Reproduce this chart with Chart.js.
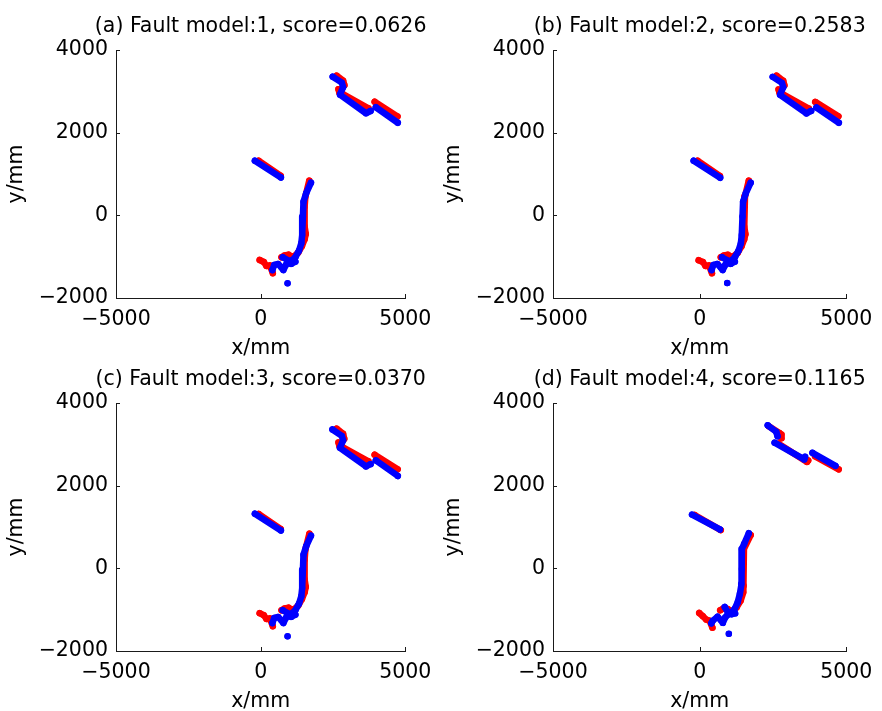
<!DOCTYPE html>
<html>
<head>
<meta charset="utf-8">
<script src="https://cdn.jsdelivr.net/npm/chart.js@4.4.1/dist/chart.umd.min.js"></script>
<style>
    html, body { margin: 0; padding: 0; background: #fff; overflow: hidden; }
    #fig { position: relative; width: 882px; height: 711px; }
    .panel { position: absolute; }
</style>
</head>
<body>
<div id="fig">
    <div class="panel"><canvas id="ca"></canvas></div>
    <div class="panel"><canvas id="cb"></canvas></div>
    <div class="panel"><canvas id="cc"></canvas></div>
    <div class="panel"><canvas id="cd"></canvas></div>
</div>
<script>
    // 軸の目盛り
    const xTicks = [-5000, 0, 5000];
    const yTicks = [-2000, 0, 2000, 4000];

    const titles = [
        '(a) Fault model:1, score=0.0626',
        '(b) Fault model:2, score=0.2583',
        '(c) Fault model:3, score=0.0370',
        '(d) Fault model:4, score=0.1165'
    ];

    // 各系列 = 線分のリスト, 各線分 = [x, y] (mm)
    const redA = [
        [[2625, 3380], [2850, 3260], [2895, 3150]],
        [[2690, 3050], [2720, 2965], [2830, 2940], [3725, 2590]],
        [[3940, 2750], [4730, 2390]],
        [[-70, 1320], [690, 960]],
        [[1680, 840], [1545, 450], [1520, 210], [1520, -270], [1560, -450], [1520, -580], [1430, -740],
         [1300, -900], [1165, -985], [1055, -1000], [965, -950], [830, -970], [720, -1015]],
        [[-35, -1080], [110, -1130], [200, -1225], [315, -1210], [420, -1400]]
    ];
    const blueA = [
        [[2490, 3355], [2805, 3210], [2850, 3100], [2740, 2920], [3640, 2470], [3800, 2525]],
        [[3980, 2615], [4740, 2240]],
        [[-200, 1320], [700, 915]],
        [[1740, 790], [1570, 530], [1480, 330], [1460, -30], [1435, -475], [1405, -675], [1325, -855],
         [1210, -1000], [1100, -1080], [985, -1130], [875, -1195], [785, -1325], [720, -1260],
         [605, -1175], [470, -1200], [405, -1325]],
        [[765, -1015], [920, -1080], [1055, -1175], [1200, -1120]],
        [[930, -1645]]
    ];

    const redB = [
        [[2620, 3380], [2850, 3255], [2890, 3145]],
        [[2690, 3045], [2720, 2965], [2830, 2935], [3720, 2585]],
        [[3940, 2745], [4730, 2395]],
        [[-70, 1320], [690, 955]],
        [[1675, 840], [1545, 455], [1525, 210], [1520, -270], [1560, -455], [1520, -580], [1430, -745],
         [1300, -905], [1165, -985], [1055, -1000], [965, -955], [830, -970], [720, -1015]],
        [[-35, -1085], [110, -1130], [200, -1225], [315, -1210], [420, -1400]]
    ];
    const blueB = [
        [[2490, 3350], [2805, 3205], [2850, 3100], [2740, 2915], [3640, 2465], [3800, 2525]],
        [[3980, 2610], [4745, 2240]],
        [[-205, 1320], [700, 910]],
        [[1740, 790], [1570, 530], [1480, 330], [1460, -30], [1435, -475], [1405, -675], [1325, -855],
         [1210, -1000], [1100, -1085], [985, -1130], [875, -1195], [785, -1325], [720, -1260],
         [605, -1175], [470, -1200], [405, -1325]],
        [[765, -1015], [920, -1080], [1055, -1175], [1200, -1120]],
        [[940, -1640]]
    ];

    const redC = [
        [[2625, 3380], [2850, 3255], [2890, 3135]],
        [[2690, 3045], [2720, 2960], [2830, 2935], [3725, 2590]],
        [[3940, 2750], [4735, 2395]],
        [[-70, 1315], [690, 955]],
        [[1685, 840], [1545, 450], [1520, 210], [1520, -270], [1560, -450], [1520, -580], [1430, -740],
         [1300, -900], [1165, -985], [1055, -1000], [965, -950], [830, -970], [720, -1015]],
        [[-35, -1085], [110, -1135], [200, -1225], [315, -1210], [420, -1400]]
    ];
    const blueC = [
        [[2480, 3360], [2805, 3205], [2850, 3095], [2740, 2915], [3640, 2465], [3800, 2520]],
        [[3980, 2610], [4740, 2235]],
        [[-200, 1320], [700, 915]],
        [[1740, 790], [1570, 530], [1480, 330], [1460, -30], [1435, -475], [1405, -675], [1325, -855],
         [1210, -1000], [1100, -1080], [985, -1130], [875, -1195], [785, -1325], [720, -1260],
         [605, -1175], [470, -1200], [405, -1325]],
        [[765, -1015], [920, -1080], [1055, -1175], [1200, -1120]],
        [[930, -1645]]
    ];

    const redD = [
        [[2360, 3435], [2720, 3275], [2790, 3235], [2790, 3150]],
        [[2690, 3015], [3660, 2575], [3700, 2610]],
        [[3935, 2710], [4740, 2395]],
        [[-170, 1290], [720, 925]],
        [[1740, 805], [1510, 470], [1500, -420], [1480, -580], [1400, -780], [1260, -945], [1100, -1050],
         [955, -985], [810, -970], [700, -1015]],
        [[-15, -1080], [110, -1160], [225, -1240], [335, -1265], [435, -1435]]
    ];
    const blueD = [
        [[2320, 3460], [2610, 3305], [2655, 3195]],
        [[2555, 3040], [3565, 2635], [3595, 2700]],
        [[3845, 2795], [4630, 2480]],
        [[-260, 1300], [690, 940]],
        [[1675, 850], [1515, 590], [1440, 470], [1440, -15], [1415, -380], [1370, -620], [1295, -825],
         [1190, -985], [1055, -1080], [945, -1130], [870, -1190], [790, -1320], [720, -1250],
         [610, -1170], [450, -1265], [400, -1330]],
        [[855, -935], [965, -1065], [1080, -1110], [1210, -1090]],
        [[995, -1585]]
    ];

    const FONT = 'DejaVu Sans';
    const FS = 20.5;
    const AXIS_COLOR = '#1a1a1a';
    const PANEL_W = 441;
    const X_AXIS_H = 70;

    Chart.defaults.font.family = FONT;
    Chart.defaults.color = '#000';

    const panels = [
        { id: 'ca', left: 0,   top: 0,   area: { l: 116, r: 413, t: 50, b: 298 }, title: titles[0], red: redA, blue: blueA },
        { id: 'cb', left: 441, top: 0,   area: { l: 112, r: 409, t: 50, b: 298 }, title: titles[1], red: redB, blue: blueB },
        { id: 'cc', left: 0,   top: 355, area: { l: 116, r: 413, t: 48, b: 296 }, title: titles[2], red: redC, blue: blueC },
        { id: 'cd', left: 441, top: 355, area: { l: 112, r: 409, t: 48, b: 296 }, title: titles[3], red: redD, blue: blueD }
    ];

    function toPoints(segments) {
        const out = [];
        segments.forEach((seg, i) => {
            if (i > 0) out.push({ x: null, y: null });  // 線を切る
            seg.forEach(p => out.push({ x: p[0], y: p[1] }));
        });
        return out;
    }

    function fmt(v) {
        return v < 0 ? '\u2212' + Math.abs(v) : String(v);
    }

    function series(color, segments) {
        return {
            data: toPoints(segments),
            showLine: true,
            spanGaps: false,
            borderColor: color,
            backgroundColor: color,
            borderWidth: 6.5,
            borderCapStyle: 'round',
            borderJoinStyle: 'round',
            pointRadius: 3.2,
            pointHoverRadius: 3.2,
            pointBorderWidth: 0
        };
    }

    // MATLAB風の内向き目盛り + タイトル
    const matlabAxes = {
        id: 'matlabAxes',
        afterDraw(chart, args, opts) {
            const { ctx, chartArea, scales } = chart;
            ctx.save();
            ctx.strokeStyle = AXIS_COLOR;
            ctx.lineWidth = 1;
            ctx.beginPath();
            scales.x.ticks.forEach(t => {
                const px = Math.round(scales.x.getPixelForValue(t.value)) + 0.5;
                ctx.moveTo(px, chartArea.bottom);
                ctx.lineTo(px, chartArea.bottom - 4);
            });
            scales.y.ticks.forEach(t => {
                const py = Math.round(scales.y.getPixelForValue(t.value)) + 0.5;
                ctx.moveTo(chartArea.left, py);
                ctx.lineTo(chartArea.left + 4, py);
            });
            ctx.stroke();

            ctx.fillStyle = '#000';
            ctx.font = `${FS}px "${FONT}"`;
            ctx.textAlign = 'center';
            ctx.textBaseline = 'alphabetic';
            ctx.fillText(opts.text, (chartArea.left + chartArea.right) / 2, chartArea.top - 18);
            ctx.restore();
        }
    };

    panels.forEach(p => {
        const el = document.getElementById(p.id);
        el.width = PANEL_W;
        el.height = p.area.b + X_AXIS_H;
        el.parentNode.style.left = p.left + 'px';
        el.parentNode.style.top = p.top + 'px';

        new Chart(el, {
            type: 'scatter',
            data: {
                datasets: [series('#0000ff', p.blue), series('#ff0000', p.red)]
            },
            options: {
                responsive: false,
                animation: false,
                events: [],
                layout: {
                    padding: { left: 0, top: p.area.t, right: PANEL_W - p.area.r, bottom: 0 }
                },
                plugins: {
                    legend: { display: false },
                    tooltip: { enabled: false },
                    matlabAxes: { text: p.title }
                },
                scales: {
                    x: {
                        type: 'linear',
                        min: -5000,
                        max: 5000,
                        afterBuildTicks: s => { s.ticks = xTicks.map(v => ({ value: v })); },
                        afterFit: s => { s.height = X_AXIS_H; },
                        grid: { display: false, drawTicks: false },
                        border: { display: true, color: AXIS_COLOR, width: 1 },
                        ticks: {
                            padding: 9.6,
                            maxRotation: 0,
                            autoSkip: false,
                            font: { size: FS },
                            color: '#000',
                            callback: v => fmt(v)
                        },
                        title: {
                            display: true,
                            text: 'x/mm',
                            font: { size: FS },
                            color: '#000',
                            padding: { top: 0, bottom: 6.8 }
                        }
                    },
                    y: {
                        type: 'linear',
                        min: -2000,
                        max: 4000,
                        afterBuildTicks: s => { s.ticks = yTicks.map(v => ({ value: v })); },
                        afterFit: s => { s.width = p.area.l; },
                        grid: { display: false, drawTicks: false },
                        border: { display: true, color: AXIS_COLOR, width: 1 },
                        ticks: {
                            padding: 8,
                            font: { size: FS },
                            color: '#000',
                            callback: v => fmt(v)
                        },
                        title: {
                            display: true,
                            text: 'y/mm',
                            font: { size: FS },
                            color: '#000',
                            padding: { top: p.area.l - 99 - FS * 0.6, bottom: 0 }
                        }
                    }
                }
            },
            plugins: [matlabAxes]
        });
    });
</script>
</body>
</html>
